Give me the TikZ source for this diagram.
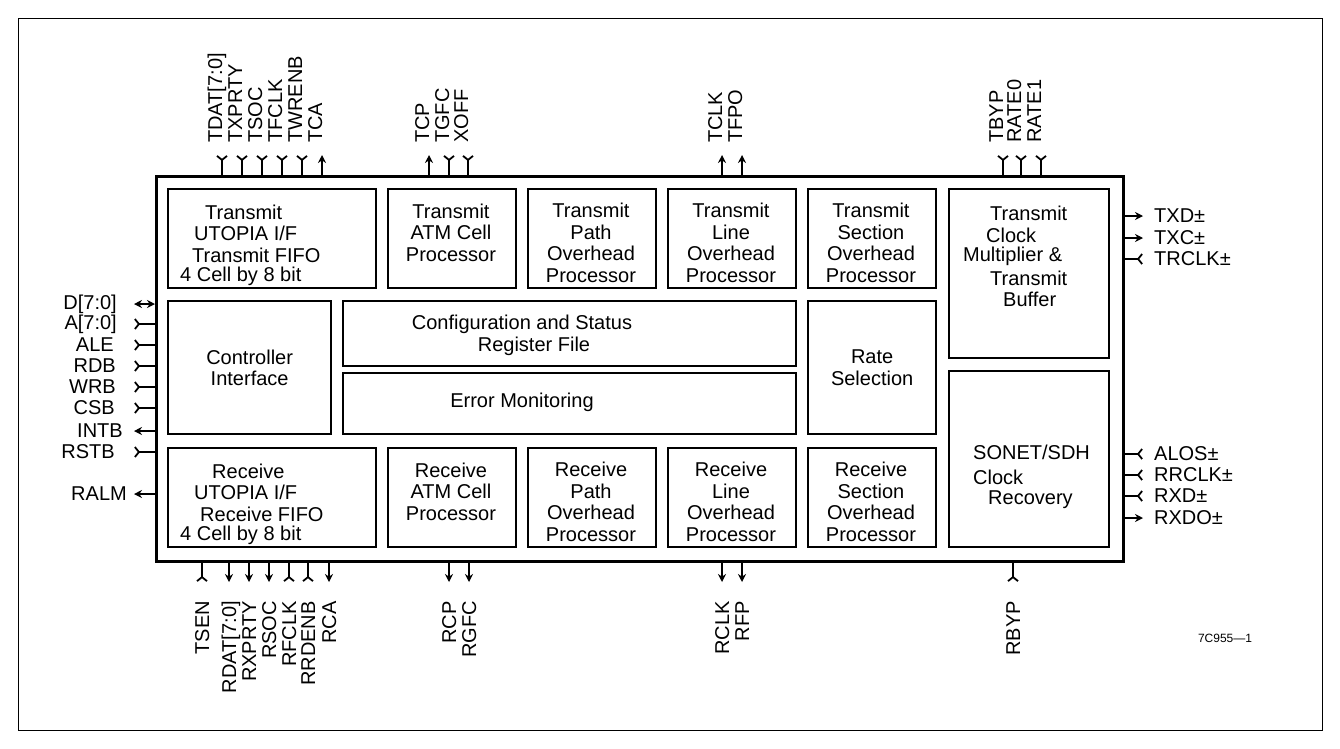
\documentclass[tikz,border=0pt]{standalone}
\usepackage{fontspec}
\setmainfont{Liberation Sans}
\usetikzlibrary{arrows.meta}
\begin{document}
\begin{tikzpicture}[x=1pt,y=-1pt,
  every node/.style={font=\fontsize{20}{21.5}\selectfont, inner sep=0pt},
  chipbox/.style={draw, line width=2.6pt},
  blk/.style={draw, line width=2.3pt},
  txt/.style={align=center},
  pinl/.style={line width=2pt},
  inp/.style={pinl, -{Straight Barb[reversed,length=4pt,width=10pt,line width=1.8pt]}},
  outp/.style={pinl, -{Stealth[length=8pt,width=8pt]}},
  bidir/.style={pinl, {Stealth[length=8pt,width=8pt]}-{Stealth[length=8pt,width=8pt]}},
  vlab/.style={rotate=90, text height=14pt, text depth=0pt},
]
\useasboundingbox (0,0) rectangle (1340,748);
\draw[line width=0.8pt] (18,18) rectangle (1322,730);
% chip
\node[chipbox, minimum width=967pt, minimum height=385pt, anchor=north west] (chip) at (155,175) {};
% top row
\node[blk, anchor=north west, minimum width=208pt, minimum height=99pt] (tutopia) at (167,188) {};
\node[blk, anchor=north west, minimum width=128pt, minimum height=99pt] (tatm) at (387,188) {};
\node[blk, anchor=north west, minimum width=128pt, minimum height=99pt] (tpath) at (527,188) {};
\node[blk, anchor=north west, minimum width=128pt, minimum height=99pt] (tline) at (667,188) {};
\node[blk, anchor=north west, minimum width=128pt, minimum height=99pt] (tsect) at (807,188) {};
\node[blk, anchor=north west, minimum width=160pt, minimum height=169pt] (tclk) at (948,188) {};
% middle row
\node[blk, anchor=north west, minimum width=163pt, minimum height=133pt] (ctrl) at (167,300) {};
\node[blk, anchor=north west, minimum width=453pt, minimum height=65pt] (cfg) at (342,300) {};
\node[blk, anchor=north west, minimum width=453pt, minimum height=61pt] (err) at (342,372) {};
\node[blk, anchor=north west, minimum width=128pt, minimum height=133pt] (rate) at (807,300) {};
\node[blk, anchor=north west, minimum width=160pt, minimum height=176pt] (sonet) at (948,370) {};
% bottom row
\node[blk, anchor=north west, minimum width=208pt, minimum height=99pt] (rutopia) at (167,447) {};
\node[blk, anchor=north west, minimum width=128pt, minimum height=99pt] (ratm) at (387,447) {};
\node[blk, anchor=north west, minimum width=128pt, minimum height=99pt] (rpath) at (527,447) {};
\node[blk, anchor=north west, minimum width=128pt, minimum height=99pt] (rline) at (667,447) {};
\node[blk, anchor=north west, minimum width=128pt, minimum height=99pt] (rsect) at (807,447) {};
% texts
\node[anchor=west] (tu1) at (205,212) {Transmit};
\node[anchor=west] (tu2) at (194,233) {UTOPIA I/F};
\node[anchor=west] (tu3) at (192,255) {Transmit FIFO};
\node[anchor=west] (tu4) at (180,276) {4 Cell by 8 bit};
\node[txt] (tatmt) at (451,232.5) {Transmit\\ATM Cell\\Processor};
\node[txt] (tpatht) at (591,243) {Transmit\\Path\\Overhead\\Processor};
\node[txt] (tlinet) at (731,243) {Transmit\\Line\\Overhead\\Processor};
\node[txt] (tsectt) at (871,243) {Transmit\\Section\\Overhead\\Processor};
\node[anchor=west] (tc1) at (990,213) {Transmit};
\node[anchor=west] (tc2) at (986,235) {Clock};
\node[anchor=west] (tc3) at (963,256) {Multiplier \&};
\node[anchor=west] (tc4) at (990,278) {Transmit};
\node[anchor=west] (tc5) at (1003,299) {Buffer};
\node[txt] (ctrlt) at (ctrl) {Controller\\Interface};
\node (cfg1) at (522,324) {Configuration and Status};
\node (cfg2) at (534,346) {Register File};
\node (errt) at (522,402) {Error Monitoring};
\node[txt] (ratet) at (rate) {Rate\\Selection};
\node[anchor=west] (so1) at (973,452) {SONET/SDH};
\node[anchor=west] (so2) at (973,477) {Clock};
\node[anchor=west] (so3) at (988,500) {Recovery};
\node[anchor=west] (ru1) at (212,471) {Receive};
\node[anchor=west] (ru2) at (194,492) {UTOPIA I/F};
\node[anchor=west] (ru3) at (200,514) {Receive FIFO};
\node[anchor=west] (ru4) at (180,535) {4 Cell by 8 bit};
\node[txt] (ratmt) at (451,491.5) {Receive\\ATM Cell\\Processor};
\node[txt] (rpatht) at (591,502) {Receive\\Path\\Overhead\\Processor};
\node[txt] (rlinet) at (731,502) {Receive\\Line\\Overhead\\Processor};
\node[txt] (rsectt) at (871,502) {Receive\\Section\\Overhead\\Processor};
% top pins: x / label / type
\foreach \x/\l/\t [count=\i] in {222/{TDAT[7:0]}/inp, 242/TXPRTY/inp, 262/TSOC/inp, 282/TFCLK/inp, 302/TWRENB/inp, 322/TCA/outp,
  429/TCP/outp, 449/TGFC/inp, 468/XOFF/inp, 722/TCLK/outp, 742/TFPO/outp, 1003/TBYP/inp, 1021/RATE0/inp, 1041/RATE1/inp}{
  \coordinate (ti\i) at (\x,175);
  \coordinate (to\i) at (\x,155);
  \draw[\t] (ti\i) -- (to\i);
  \node[vlab, anchor=west] (tl\i) at (\x-7,143) {\l};
}
% bottom pins
\foreach \x/\l/\t [count=\i] in {202/TSEN/inp, 229/{RDAT[7:0]}/outp, 249/RXPRTY/outp, 269/RSOC/outp, 289/RFCLK/inp, 308/RRDENB/inp, 329/RCA/outp,
  449/RCP/outp, 469/RGFC/outp, 722/RCLK/outp, 742/RFP/outp, 1013/RBYP/inp}{
  \coordinate (bi\i) at (\x,560);
  \coordinate (bo\i) at (\x,582);
  \draw[\t] (bi\i) -- (bo\i);
  \node[vlab, anchor=east] (bl\i) at (\x,601) {\l};
}
% left pins
\foreach \y/\l/\t/\e [count=\i] in {304/{D[7:0]}/bidir/117, 324/{A[7:0]}/inp/117, 345/ALE/inp/114, 366/RDB/inp/116, 387/WRB/inp/116, 408/CSB/inp/115, 431/INTB/outp/123, 452/RSTB/inp/115, 494/RALM/outp/127}{
  \coordinate (li\i) at (155,\y);
  \coordinate (lo\i) at (134,\y);
  \draw[\t] (li\i) -- (lo\i);
  \node[anchor=east] (ll\i) at (\e,\y) {\l};
}
% right pins
\foreach \y/\l/\t [count=\i] in {216/TXD±/outp, 238/TXC±/outp, 259/TRCLK±/inp, 454/ALOS±/inp, 475/RRCLK±/inp, 496/RXD±/inp, 518/RXDO±/outp}{
  \coordinate (ri\i) at (1122,\y);
  \coordinate (ro\i) at (1143,\y);
  \draw[\t] (ri\i) -- (ro\i);
  \node[anchor=west] (rl\i) at (1154,\y) {\l};
}
\node[font=\fontsize{12}{14}\selectfont] (fig) at (1225,638) {7C955\textemdash1};
\end{tikzpicture}
\end{document}
